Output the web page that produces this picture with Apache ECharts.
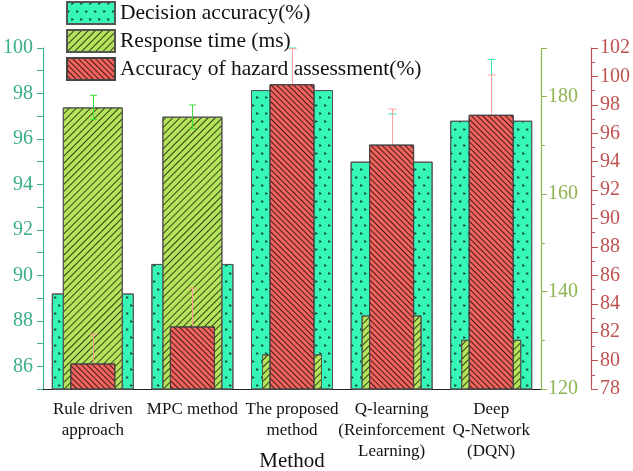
<!DOCTYPE html>
<html>
<head>
<meta charset="utf-8">
<script src="https://cdn.jsdelivr.net/npm/echarts@6/dist/echarts.min.js"></script>
<style>
  html, body { margin: 0; padding: 0; background: #fff; }
  #main { width: 633px; height: 471px; }
</style>
</head>
<body>
<div id="main"></div>
<script>
// data
var categories = ['Rule driven\napproach', 'MPC method', 'The proposed\nmethod', 'Q-learning\n(Reinforcement\nLearning)', 'Deep\nQ-Network\n(DQN)'];
var decisionAcc = [89.2, 90.5, 98.15, 95.0, 96.8];
var decisionErr = [1.0, 1.0, 1.85, 2.1, 2.7];
var responseTime = [177.8, 175.9, 127.1, 135.1, 130.1];
var responseErr = [2.5, 2.4, 2.0, 2.0, 2.0];
var hazardAcc = [79.8, 82.4, 99.45, 95.2, 97.3];
var hazardErr = [2.05, 2.7, 2.5, 2.5, 2.8];

var seriesNames = ['Decision accuracy(%)', 'Response time (ms)', 'Accuracy of hazard assessment(%)'];

var serif = 'Liberation Serif';
var tealAxis = '#3aae86', greenAxis = '#8db552', redAxis = '#bf5050';

function toPoints(vals, errs) {
    return vals.map(function (v, i) { return [i, v, errs[i]]; });
}

// error bar drawn through the axis scale of its own series
function errBar(color, capW, lower) {
    return function (params, api) {
        var x = api.value(0), v = api.value(1), e = api.value(2);
        var p0 = api.coord([x, lower ? v - e : v]);
        var p1 = api.coord([x, v + e]);
        var cx = Math.round(p0[0]) + 0.5;
        var st = { stroke: color, lineWidth: 1 };
        var kids = [
            { type: 'line', shape: { x1: cx, y1: p0[1], x2: cx, y2: p1[1] }, style: st },
            { type: 'line', shape: { x1: cx - capW / 2, y1: p1[1], x2: cx + capW / 2, y2: p1[1] }, style: st }
        ];
        if (lower) {
            kids.push({ type: 'line', shape: { x1: cx - capW / 2, y1: p0[1], x2: cx + capW / 2, y2: p0[1] }, style: st });
        }
        return { type: 'group', children: kids };
    };
}

var chart = echarts.init(document.getElementById('main'));
var xBase = {
    type: 'category',
    data: categories,
    position: 'bottom'
};
var option = {
    animation: false,
    backgroundColor: '#fff',
    grid: { left: 43, right: 92, top: 48, bottom: 82, outerBoundsMode: 'none' },
    legend: {
        orient: 'vertical',
        left: 61,
        top: -4,
        itemWidth: 48,
        itemHeight: 22,
        itemGap: 4,
        icon: 'rect',
        data: seriesNames,
        textStyle: { fontFamily: serif, fontSize: 21.5, lineHeight: 22, color: '#111' }
    },
    xAxis: [
        Object.assign({}, xBase, {
            axisLine: { lineStyle: { color: '#222', width: 1.2 } },
            axisTick: { length: 3, lineStyle: { color: '#222' } },
            axisLabel: { fontFamily: serif, fontSize: 17, color: '#111', lineHeight: 21, margin: 10, interval: 0 },
            name: 'Method',
            nameLocation: 'middle',
            nameGap: 62,
            nameMoveOverlap: false,
            nameTextStyle: { fontFamily: serif, fontSize: 21, color: '#111' }
        }),
        Object.assign({}, xBase, {
            axisLine: { show: false },
            axisTick: { alignWithLabel: true, length: 6, lineStyle: { color: '#222' } },
            axisLabel: { show: false }
        }),
        Object.assign({}, xBase, { show: false })
    ],
    yAxis: [
        {
            type: 'value', min: 85, max: 100, interval: 1, position: 'left',
            splitLine: { show: false },
            axisLine: { show: true, lineStyle: { color: tealAxis } },
            axisTick: { show: true, length: 6, lineStyle: { color: tealAxis } },
            axisLabel: {
                fontFamily: serif, fontSize: 20, color: tealAxis, margin: 10,
                formatter: function (v) { return (v % 2 === 0) ? v : ''; }
            }
        },
        {
            type: 'value', min: 120, max: 190, interval: 20, position: 'right',
            splitLine: { show: false },
            axisLine: { show: true, lineStyle: { color: greenAxis, width: 1.2 } },
            axisTick: { show: true, length: 6, lineStyle: { color: greenAxis } },
            minorTick: { show: true, splitNumber: 2, length: 4, lineStyle: { color: greenAxis } },
            axisLabel: {
                fontFamily: serif, fontSize: 20, color: greenAxis, margin: 7,
                formatter: function (v) { return (v % 20 === 0) ? v : ''; }
            }
        },
        {
            type: 'value', min: 78, max: 102, interval: 2, position: 'right', offset: 50,
            splitLine: { show: false },
            axisLine: { show: true, lineStyle: { color: redAxis, width: 1.2 } },
            axisTick: { show: true, length: 7, lineStyle: { color: redAxis } },
            minorTick: { show: true, splitNumber: 2, length: 4, lineStyle: { color: redAxis } },
            axisLabel: { fontFamily: serif, fontSize: 20, color: redAxis, margin: 9 }
        }
    ],
    series: [
        {
            name: seriesNames[0], type: 'bar', xAxisIndex: 0, yAxisIndex: 0, barWidth: 82, z: 2,
            data: decisionAcc,
            itemStyle: {
                color: '#36f7b8', borderColor: '#555', borderWidth: 1,
                decal: {
                    symbol: 'path://M0,0L10,5L0,10L2,5Z', color: 'rgba(0,0,0,0.85)', symbolSize: 1,
                    dashArrayX: [[3, 6], [0, 4, 3, 2]], dashArrayY: [3, 5], rotation: 0
                }
            }
        },
        {
            name: 'decisionErr', type: 'custom', xAxisIndex: 0, yAxisIndex: 0, z: 3, clip: false,
            renderItem: errBar('#2fe6a6', 8, false),
            data: toPoints(decisionAcc, decisionErr)
        },
        {
            name: seriesNames[1], type: 'bar', xAxisIndex: 1, yAxisIndex: 1, barWidth: 60, z: 4,
            data: responseTime,
            itemStyle: {
                color: '#b5e35c', borderColor: '#555', borderWidth: 1,
                decal: {
                    symbol: 'rect', color: 'rgba(30,40,10,0.85)', symbolSize: 1,
                    dashArrayX: [1, 0], dashArrayY: [1, 3.5], rotation: -Math.PI / 4
                }
            }
        },
        {
            name: 'responseErr', type: 'custom', xAxisIndex: 1, yAxisIndex: 1, z: 5, clip: false,
            renderItem: errBar('#3ddc3d', 7, true),
            data: toPoints(responseTime, responseErr)
        },
        {
            name: 'hazardErr', type: 'custom', xAxisIndex: 2, yAxisIndex: 2, z: 6, clip: false,
            renderItem: errBar('#ff9d9d', 8, false),
            data: toPoints(hazardAcc, hazardErr)
        },
        {
            name: seriesNames[2], type: 'bar', xAxisIndex: 2, yAxisIndex: 2, barWidth: 45, z: 7,
            data: hazardAcc,
            itemStyle: {
                color: '#f2655e', borderColor: '#444', borderWidth: 1,
                decal: {
                    symbol: 'rect', color: 'rgba(40,10,10,0.85)', symbolSize: 1,
                    dashArrayX: [1, 0], dashArrayY: [1, 2.6], rotation: Math.PI / 4
                }
            }
        }
    ]
};
chart.setOption(option);
</script>
</body>
</html>
